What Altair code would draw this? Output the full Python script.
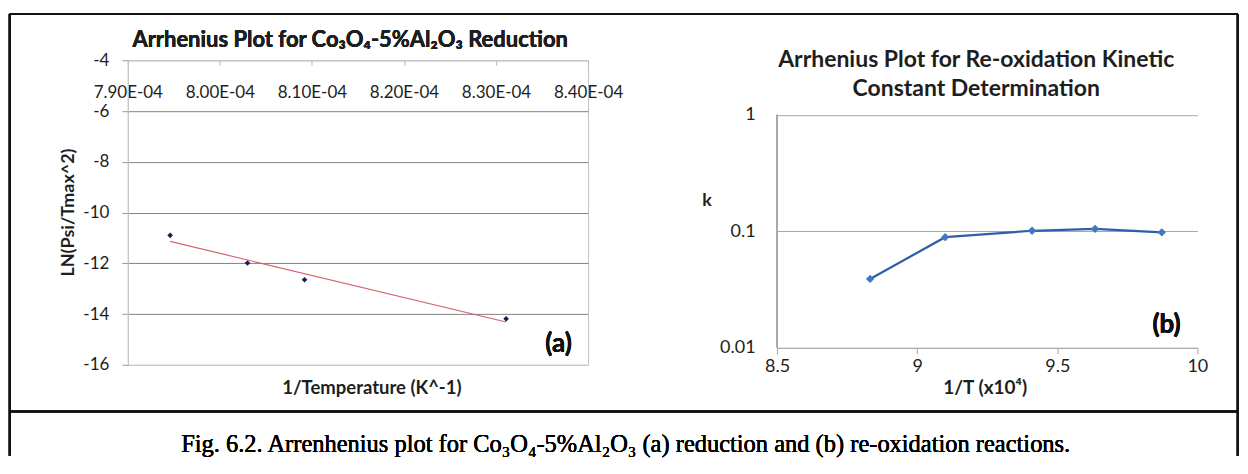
import altair as alt
import pandas as pd

# ---- data ----
red_x = [7.946e-4, 8.030e-4, 8.092e-4, 8.311e-4]      # 1/Temperature (K^-1)
red_y = [-10.90, -11.99, -12.65, -14.19]              # LN(Psi/Tmax^2)
ox_x = [8.832, 9.100, 9.410, 9.635, 9.873]             # 1/T (x10^4)
ox_k = [0.039, 0.089, 0.101, 0.105, 0.098]             # k

a_xticks = [7.9e-4, 8.0e-4, 8.1e-4, 8.2e-4, 8.3e-4, 8.4e-4]
a_yticks = [-16, -14, -12, -10, -8, -6, -4]
b_xticks = [8.5, 9, 9.5, 10]
b_yticks = [0.01, 0.1, 1]

title_a = "Arrhenius Plot for Co₃O₄-5%Al₂O₃ Reduction"
title_b = ["Arrhenius Plot for Re-oxidation Kinetic", "Constant Determination"]
caption = "Fig. 6.2. Arrenhenius plot for Co₃O₄-5%Al₂O₃ (a) reduction and (b) re-oxidation reactions."

FONT = "Lato"
TXT = "#1e1e1e"
AW, AH = 461, 305
BW, BH = 421, 288

dfa = pd.DataFrame({"x": red_x, "y": red_y})
dfb = pd.DataFrame({"x": ox_x, "k": ox_k})

# ---------------- panel (a) ----------------
xa = alt.X(
    "x:Q",
    scale=alt.Scale(domain=[a_xticks[0], a_xticks[-1]], nice=False, zero=False),
    axis=alt.Axis(
        orient="bottom", offset=-AH, values=a_xticks,
        labelExpr="replace(format(datum.value, '.2e'), 'e-', 'E-0')",
        labelOverlap=False, labelFlush=False,
        grid=False, tickSize=5, tickColor="#b8b8b8", domainColor="#c4c4c4",
        labelPadding=19, labelFont=FONT, labelFontSize=17, labelColor=TXT,
        title="1/Temperature (K^-1)", titleX=244, titleY=328, titleAlign="center",
        titleBaseline="middle", titleFont=FONT, titleFontSize=18.5, titleFontWeight="bold",
        titleColor=TXT,
    ),
)
ya = alt.Y(
    "y:Q",
    scale=alt.Scale(domain=[a_yticks[0], a_yticks[-1]], nice=False, zero=False),
    axis=alt.Axis(
        values=a_yticks, labelExpr="toString(datum.value)", grid=True,
        labelOverlap=False, labelFlush=False,
        gridColor={"condition": {"test": "datum.value == -4 || datum.value == -16", "value": "#c4c4c4"},
                   "value": "#828282"},
        tickSize=6, tickColor="#9a9a9a", domainColor="#c4c4c4",
        labelPadding=13, labelFont=FONT, labelFontSize=17, labelColor=TXT,
        title="LN(Psi/Tmax^2)", titleX=-59, titleY=152, titleAlign="center",
        titleBaseline="middle", titleFont=FONT, titleFontSize=18, titleFontWeight="bold",
        titleColor=TXT,
    ),
)

base_a = alt.Chart(dfa)
pts_a = base_a.mark_point(shape="diamond", filled=True, size=32, color="#1b1f4f", opacity=1).encode(x=xa, y=ya)
fit_a = base_a.transform_regression("x", "y").mark_line(color="#d8616f", strokeWidth=1.2).encode(x="x:Q", y="y:Q")
lab_a = base_a.mark_text(text="(a)", font=FONT, fontSize=26, fontWeight="bold", color="#111").encode(
    x=alt.datum(8.368e-4), y=alt.datum(-15.19))
ttl_a = base_a.mark_text(text=title_a, font=FONT, fontSize=22, fontWeight="bold", color=TXT,
                         align="center", baseline="middle").encode(x=alt.value(222.7), y=alt.value(-20))

frame = "#111111"
top_rule = base_a.mark_rule(color=frame, strokeWidth=2).encode(
    x=alt.value(-118.3), x2=alt.value(1111.7), y=alt.value(-46.3))
left_rule = base_a.mark_rule(color=frame, strokeWidth=2).encode(
    x=alt.value(-118.3), y=alt.value(-46.3), y2=alt.value(396))
right_rule = base_a.mark_rule(color=frame, strokeWidth=2).encode(
    x=alt.value(1111.7), y=alt.value(-46.3), y2=alt.value(396))
div_rule = base_a.mark_rule(color=frame, strokeWidth=2).encode(
    x=alt.value(-118.3), x2=alt.value(1111.7), y=alt.value(351.7))
cap = base_a.mark_text(text=caption, font="Liberation Serif", fontSize=24.5, color="#000",
                       align="center", baseline="middle").encode(x=alt.value(498.7), y=alt.value(385))

chart_a = alt.layer(pts_a, fit_a, lab_a, ttl_a, top_rule, left_rule, right_rule, div_rule, cap).properties(
    width=AW, height=AH,
    view=alt.ViewBackground(stroke="#c4c4c4", strokeWidth=1),
)

# ---------------- panel (b) ----------------
xb = alt.X(
    "x:Q",
    scale=alt.Scale(domain=[b_xticks[0], b_xticks[-1]], nice=False, zero=False),
    axis=alt.Axis(
        values=b_xticks, format="~g", grid=False, tickSize=6, tickColor="#a8a8a8",
        labelOverlap=False, labelFlush=False,
        domainColor="#a8a8a8", labelPadding=4, labelFont=FONT, labelFontSize=18, labelColor=TXT,
        title="1/T (x10⁴)", titleX=208, titleY=40, titleAlign="center", titleBaseline="middle",
        titleFont=FONT, titleFontSize=19, titleFontWeight="bold", titleColor=TXT,
    ),
)
yb = alt.Y(
    "k:Q",
    scale=alt.Scale(type="log", domain=[b_yticks[0], 2.934], nice=False),
    axis=alt.Axis(
        values=b_yticks, format="~g", grid=True, gridColor="#a8a8a8", ticks=False, domain=False,
        labelOverlap=False, labelFlush=False,
        labelPadding=22, labelFont=FONT, labelFontSize=18, labelColor=TXT,
        title="k", titleAngle=0, titleX=-70.6, titleY=140, titleAlign="center",
        titleBaseline="middle", titleFont=FONT, titleFontSize=18, titleFontWeight="bold",
        titleColor=TXT,
    ),
)

base_b = alt.Chart(dfb)
line_b = base_b.mark_line(color="#2e5ea8", strokeWidth=2.2).encode(x=xb, y=yb)
pts_b = base_b.mark_point(shape="diamond", filled=True, size=70, color="#3f78c0", opacity=1).encode(x="x:Q", y="k:Q")
yline_b = base_b.mark_rule(color="#a8a8a8", strokeWidth=1).encode(
    x=alt.value(0), y=alt.datum(b_yticks[0]), y2=alt.datum(b_yticks[-1]))
lab_b = base_b.mark_text(text="(b)", font=FONT, fontSize=26, fontWeight="bold", color="#111").encode(
    x=alt.datum(9.89), y=alt.datum(0.0158))

chart_b = alt.layer(yline_b, line_b, pts_b, lab_b).properties(
    width=BW, height=BH,
    view=alt.ViewBackground(stroke="transparent", strokeWidth=0),
    title=alt.TitleParams(title_b, font=FONT, fontSize=23, fontWeight="bold", color=TXT,
                          anchor="middle", offset=0, baseline="bottom", lineHeight=29, dx=-11, dy=63.5),
)

chart = alt.hconcat(chart_a, chart_b, spacing=189.3, bounds="flush").properties(
    padding={"left": 0, "top": 4, "right": 0, "bottom": 0},
).configure_view(stroke="transparent").configure(background="white")

chart.save("out.html", embed_options={"renderer": "svg", "actions": False})
